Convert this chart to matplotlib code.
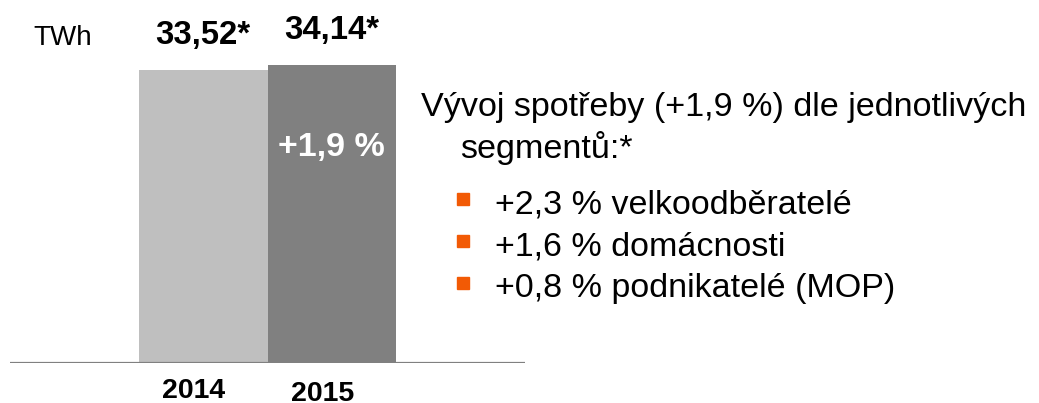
import matplotlib.pyplot as plt

plt.rcParams['font.family'] = ['Liberation Sans', 'DejaVu Sans']

years = ["2014", "2015"]
consumption = [33.52, 34.14]
value_labels = ["33,52*", "34,14*"]
growth_label = "+1,9 %"
unit = "TWh"
headline = ["Vývoj spotřeby (+1,9 %) dle jednotlivých", "segmentů:*"]
segments = ["+2,3 % velkoodběratelé", "+1,6 % domácnosti", "+0,8 % podnikatelé (MOP)"]

W, H = 1039, 403
fig = plt.figure(figsize=(W / 100, H / 100), dpi=100)


def fx(px):
    return px / W


def fy(py):
    return 1 - py / H


# axes: baseline at y=362.5 px, spans x 10..525 px
ax = fig.add_axes([fx(10), fy(362.5), fx(515), 362.5 / H])
bars = ax.bar([0, 1], consumption, width=1.0, color=["#bfbfbf", "#808080"], zorder=2)
ax.set_xlim(-1.5, 2.5)
ax.set_ylim(0, 41.6)
ax.axis("off")
ax.axhline(0, color="#808080", lw=1.6, zorder=3)

for b, lab in zip(bars, value_labels):
    ax.annotate(lab, (b.get_x() + b.get_width() / 2, b.get_height()),
                xytext=(0, 19), textcoords="offset points",
                ha="center", va="baseline", fontsize=23.7, fontweight="bold")

ax.text(1, 34.14 - 10.4, growth_label, ha="center", va="baseline",
        fontsize=24.5, fontweight="bold", color="white")

# year labels sit slightly left of bar centres
fig.text(fx(194), fy(398), years[0], ha="center", va="baseline", fontsize=20.5, fontweight="bold")
fig.text(fx(323), fy(401), years[1], ha="center", va="baseline", fontsize=20.5, fontweight="bold")

fig.text(fx(33), fy(45), unit, ha="left", va="baseline", fontsize=20)

fig.text(fx(421), fy(116), headline[0], ha="left", va="baseline", fontsize=24.6)
fig.text(fx(460), fy(158), headline[1], ha="left", va="baseline", fontsize=24.6)

for i, s in enumerate(segments):
    ybase = 213 + i * 42
    fig.text(fx(495), fy(ybase), s, ha="left", va="baseline", fontsize=24.5)
    fig.patches.append(plt.Rectangle((fx(457), fy(205 + i * 42)), fx(12), 12 / H,
                                     transform=fig.transFigure, color="#f25a05", figure=fig))

fig.savefig("out.png", dpi=100)
